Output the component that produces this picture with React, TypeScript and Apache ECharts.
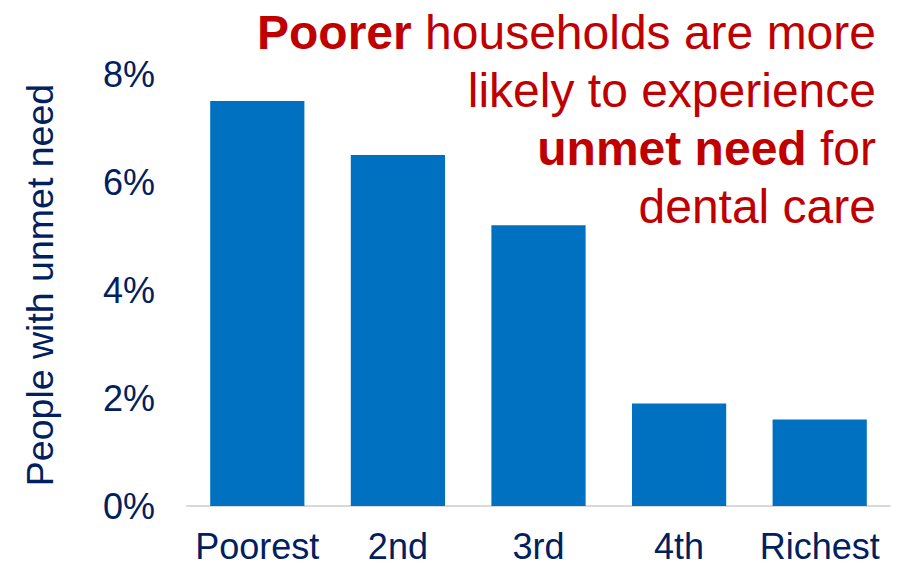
import React, { useEffect, useRef } from "react";
import * as echarts from "echarts";

const categories = ["Poorest", "2nd", "3rd", "4th", "Richest"];
const unmetNeed = [7.5, 6.5, 5.2, 1.9, 1.6];
const yTicks = { min: 0, max: 8, interval: 2 };
const yAxisName = "People with unmet need";
const titleLines = [
  "{b|Poorer} households are more",
  "likely to experience",
  "{b|unmet need} for",
  "dental care",
];

const NAVY = "#002060";
const RED = "#C00000";
const FONT = "'Liberation Sans', Arial, sans-serif";

export default function App() {
  const ref = useRef<HTMLDivElement>(null);
  useEffect(() => {
    if (!ref.current) return;
    const chart = echarts.init(ref.current, null, { renderer: "svg" });
    chart.setOption({
      animation: false,
      backgroundColor: "#ffffff",
      textStyle: { fontFamily: FONT },
      grid: { left: 187, right: 17, top: 74, bottom: 60, containLabel: false },
      xAxis: {
        type: "category",
        data: categories,
        axisLine: { show: true, lineStyle: { color: "#D9D9D9", width: 2 } },
        axisTick: { show: false },
        axisLabel: { color: NAVY, fontSize: 36, fontFamily: FONT, margin: 22, interval: 0 },
      },
      yAxis: {
        type: "value",
        min: yTicks.min,
        max: yTicks.max,
        interval: yTicks.interval,
        splitLine: { show: false },
        axisLine: { show: false },
        axisTick: { show: false },
        axisLabel: {
          color: NAVY,
          fontSize: 36,
          fontFamily: FONT,
          margin: 32,
          formatter: (v: number) => `${v}%`,
        },
      },
      series: [
        {
          type: "bar",
          data: unmetNeed,
          barWidth: "67%",
          itemStyle: { color: "#0070C0" },
        },
      ],
      graphic: [
        {
          type: "text",
          x: 40,
          y: 285,
          rotation: Math.PI / 2,
          style: {
            text: yAxisName,
            fill: NAVY,
            fontSize: 37.5,
            fontFamily: FONT,
            align: "center",
            verticalAlign: "middle",
          },
        },
        ...titleLines.map((line, i) => ({
          type: "text",
          x: 876,
          y: 3 + 58 * i,
          style: {
            text: line,
            fill: RED,
            fontSize: 48,
            fontFamily: FONT,
            lineHeight: 58,
            align: "right",
            verticalAlign: "top",
            rich: {
              b: { fontWeight: "bold", fontSize: 48, fontFamily: FONT, fill: RED, lineHeight: 58 },
            },
          },
        })),
      ],
    });
    return () => chart.dispose();
  }, []);
  return (
    <div
      ref={ref}
      style={{ position: "absolute", left: 0, top: 0, width: 907, height: 566 }}
    />
  );
}
